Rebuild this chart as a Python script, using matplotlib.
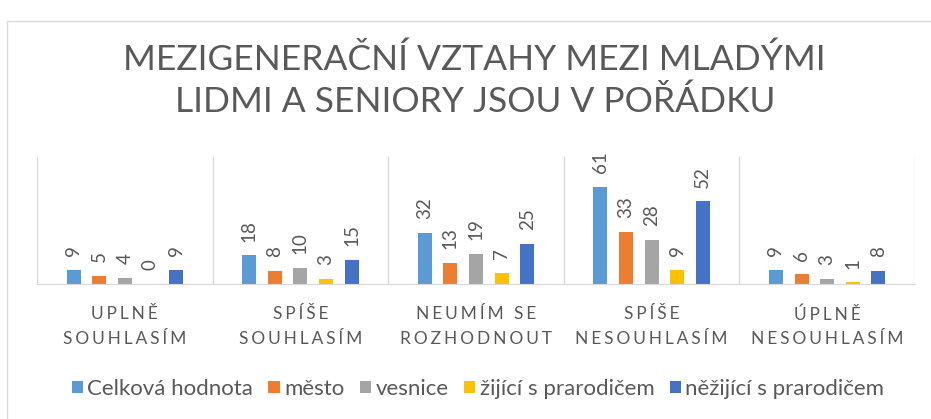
import matplotlib
matplotlib.use('Agg')
import matplotlib.pyplot as plt
import numpy as np
from matplotlib.patches import Rectangle

plt.rcParams['font.family'] = ['Lato', 'DejaVu Sans']

categories = [['UPLNĚ', 'SOUHLASÍM'],
              ['SPÍŠE', 'SOUHLASÍM'],
              ['NEUMÍM SE', 'ROZHODNOUT'],
              ['SPÍŠE', 'NESOUHLASÍM'],
              ['ÚPLNĚ', 'NESOUHLASÍM']]
series_names = ['Celková hodnota', 'město', 'vesnice', 'žijící s prarodičem', 'něžijící s prarodičem']
celkem = [9, 18, 32, 61, 9]
mesto = [5, 8, 13, 33, 6]
vesnice = [4, 10, 19, 28, 3]
s_prarodicem = [0, 3, 7, 9, 1]
bez_prarodice = [9, 15, 25, 52, 8]
colors = ['#5B9BD5', '#ED7D31', '#A5A5A5', '#FFC000', '#4472C4']

title = 'MEZIGENERAČNÍ VZTAHY MEZI MLADÝMI\nLIDMI A SENIORY JSOU V POŘÁDKU'
grid_c = '#D9D9D9'
text_c = '#595959'


def spaced(lines):
    # Excel-like letter spacing for the category labels
    return '\n'.join('\u2006'.join(line) for line in lines)


fig = plt.figure(figsize=(9.31, 4.19), dpi=100)
# chart area border (only left and top are visible in the crop)
fig.patches.append(Rectangle((7 / 931, -0.1), 1.2, 1 - 21 / 419 + 0.1, transform=fig.transFigure,
                             fill=False, edgecolor=grid_c, linewidth=1))

ax = fig.add_axes([37 / 931, 1 - 284 / 419, (915 - 37) / 931, (284 - 157) / 419])
x = np.arange(len(categories))
pitch = 0.146
width = 0.08
all_vals = [celkem, mesto, vesnice, s_prarodicem, bez_prarodice]
for i, (vals, name, c) in enumerate(zip(all_vals, series_names, colors)):
    bars = ax.bar(x + (i - 2) * pitch, vals, width, color=c, label=name)
    ax.bar_label(bars, labels=[str(v) for v in vals], rotation=90, padding=10,
                 color=text_c, fontsize=13.5)

ax.set_xlim(-0.5, len(categories) - 0.5)
ax.set_ylim(0, 80)
ax.set_yticks([])
for xs in np.arange(-0.5, len(categories), 1.0):
    ax.axvline(xs, color=grid_c, linewidth=1, zorder=0)
for side in ('top', 'right', 'left'):
    ax.spines[side].set_visible(False)
ax.spines['bottom'].set_color(grid_c)
ax.set_xticks(x)
ax.set_xticklabels([spaced(c) for c in categories], color=text_c, fontsize=12.5, linespacing=1.65)
ax.tick_params(axis='x', length=0, pad=16)

fig.text(0.51, 1 - 81 / 419, title, ha='center', va='center', fontsize=25.5,
         color=text_c, linespacing=1.35)

handles, labels = ax.get_legend_handles_labels()
fig.legend(handles, labels, loc='center', bbox_to_anchor=(478 / 931, 1 - 389 / 419), ncol=5,
           frameon=False, fontsize=16, handlelength=0.5, handleheight=0.5,
           handletextpad=0.2, columnspacing=0.7, labelcolor=text_c)

fig.savefig('out.png', dpi=100)
